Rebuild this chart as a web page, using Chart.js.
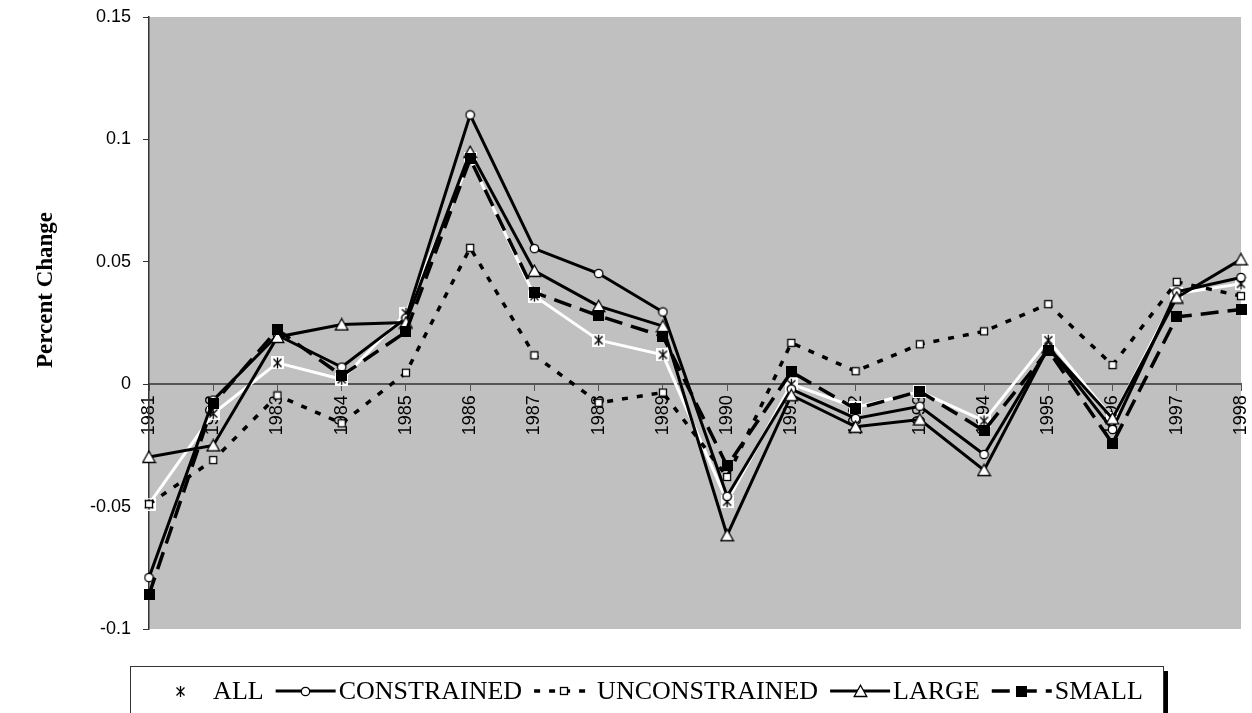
<!DOCTYPE html>
<html>
<head>
<meta charset="utf-8">
<script src="https://cdn.jsdelivr.net/npm/chart.js@4.4.1/dist/chart.umd.min.js"></script>
<style>
  html, body { margin: 0; padding: 0; background: #fff; }
  #wrap { width: 1252px; height: 713px; position: relative; }
</style>
</head>
<body>
<div id="wrap"><canvas id="chart" width="1252" height="713"></canvas></div>
<script>
// Data
const years = ["1981", "1982", "1983", "1984", "1985", "1986", "1987", "1988", "1989",
  "1990", "1991", "1992", "1993", "1994", "1995", "1996", "1997", "1998"];
const allData = [-0.049, -0.012, 0.0087, 0.002, 0.029, 0.092, 0.036, 0.018, 0.012,
  -0.048, 0.000, -0.0095, -0.003, -0.015, 0.018, -0.014, 0.037, 0.041];
const constrainedData = [-0.079, -0.0065, 0.020, 0.007, 0.027, 0.110, 0.0554, 0.0452, 0.0295,
  -0.0458, -0.002, -0.014, -0.009, -0.0287, 0.015, -0.0185, 0.0377, 0.0436];
const unconstrainedData = [-0.049, -0.031, -0.0046, -0.016, 0.0047, 0.0557, 0.0118, -0.0076, -0.0034,
  -0.0379, 0.0169, 0.0053, 0.0163, 0.0216, 0.0327, 0.0078, 0.0418, 0.036];
const largeData = [-0.0297, -0.025, 0.0193, 0.0244, 0.0252, 0.0949, 0.0463, 0.0319, 0.0237,
  -0.0617, -0.0045, -0.0174, -0.0144, -0.0351, 0.015, -0.014, 0.0354, 0.051];
const smallData = [-0.086, -0.008, 0.0223, 0.0035, 0.0214, 0.092, 0.0375, 0.0279, 0.0196,
  -0.0334, 0.005, -0.0101, -0.0029, -0.019, 0.0139, -0.0243, 0.0275, 0.0305];
const seriesNames = ["ALL", "CONSTRAINED", "UNCONSTRAINED", "LARGE", "SMALL"];
const yMin = -0.1, yMax = 0.15, yStep = 0.05;
const yTitle = "Percent Change";

// Marker images
function makeMarker(kind) {
  const c = document.createElement("canvas");
  const g = c.getContext("2d");
  if (kind === "star") {
    c.width = 13; c.height = 13;
    g.fillStyle = "#fff"; g.fillRect(0, 0, 13, 13);
    g.strokeStyle = "#000"; g.lineWidth = 1.3;
    g.beginPath();
    g.moveTo(2.5, 2.5); g.lineTo(10.5, 10.5);
    g.moveTo(10.5, 2.5); g.lineTo(2.5, 10.5);
    g.moveTo(6.5, 1); g.lineTo(6.5, 12);
    g.stroke();
  } else if (kind === "circle") {
    c.width = 11; c.height = 11;
    g.fillStyle = "#fff"; g.strokeStyle = "#000"; g.lineWidth = 1.3;
    g.beginPath(); g.arc(5.5, 5.5, 4.2, 0, Math.PI * 2); g.fill(); g.stroke();
  } else if (kind === "square") {
    c.width = 10; c.height = 10;
    g.fillStyle = "#fff"; g.strokeStyle = "#000"; g.lineWidth = 1.3;
    g.fillRect(1.5, 1.5, 7, 7); g.strokeRect(1.5, 1.5, 7, 7);
  } else if (kind === "triangle") {
    c.width = 15; c.height = 14;
    g.fillStyle = "#fff"; g.strokeStyle = "#000"; g.lineWidth = 1.3;
    g.beginPath(); g.moveTo(7.5, 1.2); g.lineTo(13.8, 12.5); g.lineTo(1.2, 12.5); g.closePath();
    g.fill(); g.stroke();
  } else {
    c.width = 11; c.height = 11;
    g.fillStyle = "#000"; g.fillRect(0, 0, 11, 11);
  }
  return c;
}

const styles = [
  { color: "#ffffff", width: 3, dash: [], marker: makeMarker("star") },
  { color: "#000000", width: 3, dash: [], marker: makeMarker("circle") },
  { color: "#000000", width: 3.5, dash: [6, 9], marker: makeMarker("square") },
  { color: "#000000", width: 3, dash: [], marker: makeMarker("triangle") },
  { color: "#000000", width: 3.5, dash: [18, 9], marker: makeMarker("block") },
];
const values = [allData, constrainedData, unconstrainedData, largeData, smallData];

const datasets = seriesNames.map((name, i) => ({
  label: name,
  data: values[i],
  borderColor: styles[i].color,
  borderWidth: styles[i].width,
  borderDash: styles[i].dash,
  pointStyle: styles[i].marker,
  pointRadius: 6,
  fill: false,
  tension: 0,
  clip: false,
  order: seriesNames.length - i, // later series on top
}));

// Gray plot area + rotated axis title
const plotBg = {
  id: "plotBg",
  beforeDraw(chart) {
    const { ctx, chartArea: a } = chart;
    ctx.save();
    ctx.fillStyle = "#c0c0c0";
    ctx.fillRect(a.left, a.top, a.right - a.left, a.bottom - a.top);
    ctx.translate(46, 290);
    ctx.rotate(-Math.PI / 2);
    ctx.font = 'bold 23px "Liberation Serif", "Times New Roman", serif';
    ctx.fillStyle = "#000";
    ctx.textAlign = "center";
    ctx.textBaseline = "middle";
    ctx.fillText(yTitle, 0, 0);
    ctx.restore();
  },
};

// Boxed legend at the bottom, line sample with marker then label
const boxLegend = {
  id: "boxLegend",
  afterDraw(chart) {
    const ctx = chart.ctx;
    ctx.save();
    ctx.font = '26px "Liberation Serif", "Times New Roman", serif';
    const sampleW = 60, gapText = 3, gapItem = 12;
    const boxX = 130, boxW = 1033, boxY = 666, boxH = 56;
    let total = 0;
    seriesNames.forEach((n, i) => {
      total += sampleW + gapText + ctx.measureText(n).width + (i < seriesNames.length - 1 ? gapItem : 0);
    });
    ctx.fillStyle = "#000";
    ctx.fillRect(boxX + 5, boxY + 5, boxW, boxH);
    ctx.fillStyle = "#fff";
    ctx.fillRect(boxX, boxY, boxW, boxH);
    ctx.strokeStyle = "#333";
    ctx.lineWidth = 1;
    ctx.strokeRect(boxX + 0.5, boxY + 0.5, boxW, boxH);

    const midY = 691;
    let x = boxX + (boxW - total) / 2;
    seriesNames.forEach((n, i) => {
      const s = styles[i];
      ctx.strokeStyle = s.color;
      ctx.lineWidth = s.width;
      ctx.setLineDash(s.dash);
      ctx.beginPath();
      ctx.moveTo(x, midY);
      ctx.lineTo(x + sampleW, midY);
      ctx.stroke();
      ctx.setLineDash([]);
      const m = s.marker;
      ctx.drawImage(m, Math.round(x + sampleW / 2 - m.width / 2), Math.round(midY - m.height / 2));
      x += sampleW + gapText;
      ctx.fillStyle = "#000";
      ctx.textBaseline = "alphabetic";
      ctx.fillText(n, x, 699);
      x += ctx.measureText(n).width + gapItem;
    });
    ctx.restore();
  },
};

const chart = new Chart(document.getElementById("chart"), {
  type: "line",
  data: { labels: years, datasets: datasets },
  options: {
    responsive: false,
    animation: false,
    events: [],
    layout: { padding: { left: 0, top: 17, right: 11, bottom: 84 } },
    plugins: { legend: { display: false }, tooltip: { enabled: false } },
    scales: {
      x: {
        type: "category",
        position: { y: 0 },
        offset: false,
        afterFit(scale) { scale.paddingLeft = 0; scale.paddingRight = 0; },
        grid: { drawOnChartArea: false, drawTicks: true, tickLength: 6, color: "#555" },
        border: { color: "#555", width: 2 },
        ticks: {
          minRotation: 90,
          maxRotation: 90,
          autoSkip: false,
          padding: 5,
          color: "#000",
          font: { family: '"Liberation Sans", Arial, sans-serif', size: 18 },
        },
      },
      y: {
        min: yMin,
        max: yMax,
        afterFit(scale) { scale.width = 149; scale.paddingTop = 0; scale.paddingBottom = 0; },
        grid: { drawOnChartArea: false, drawTicks: true, tickLength: 6, color: "#333" },
        border: { color: "#333", width: 1.5 },
        ticks: {
          stepSize: yStep,
          padding: 12,
          color: "#000",
          font: { family: '"Liberation Sans", Arial, sans-serif', size: 18 },
          callback: (v) => String(parseFloat(Number(v).toFixed(2))),
        },
      },
    },
  },
  plugins: [plotBg, boxLegend],
});
</script>
</body>
</html>
